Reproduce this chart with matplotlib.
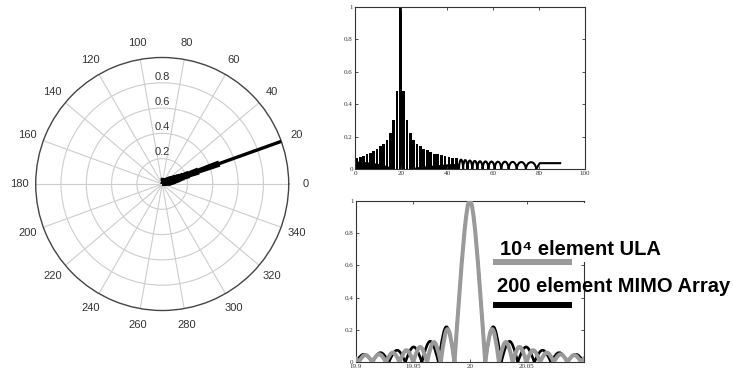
import numpy as np
import matplotlib
matplotlib.use('Agg')
import matplotlib.pyplot as plt
from matplotlib.path import Path
from matplotlib.patches import PathPatch, Rectangle
from matplotlib.lines import Line2D

# ---------------- data ----------------
# beam pattern vs. angle (degrees): top-right panel and polar panel
col_deg = [0.85, 2.3, 3.75, 5.2, 6.65, 8.1, 9.55, 11.0, 12.45, 13.9, 15.35, 16.8, 18.25,
           19.7,
           21.15, 22.6, 24.05, 25.5, 26.95, 28.4, 29.9, 31.4, 32.9, 34.45, 36.0, 37.6,
           39.2, 40.8, 42.5, 44.2]
col_val = [0.07, 0.075, 0.08, 0.09, 0.10, 0.11, 0.125, 0.14, 0.155, 0.18, 0.225, 0.305, 0.48,
           1.0,
           0.48, 0.305, 0.225, 0.18, 0.155, 0.14, 0.125, 0.115, 0.105, 0.095, 0.09, 0.085,
           0.08, 0.075, 0.07, 0.065]
# level below which the dense oscillation reads as solid black
floor_deg = [0.0, 5.0, 10.0, 14.0, 17.5, 21.9, 26.0, 32.0, 40.0, 45.2]
floor_val = [0.05, 0.045, 0.035, 0.02, 0.0, 0.0, 0.012, 0.022, 0.032, 0.035]
hump_null_deg = [45.2, 47.0, 48.9, 51.0, 53.2, 55.5, 58.0, 60.7, 63.6, 66.8, 70.3, 74.3, 78.8]
hump_val = [0.058, 0.055, 0.052, 0.05, 0.048, 0.047, 0.046, 0.045, 0.045, 0.044, 0.043, 0.042]
tail_deg = [78.8, 80.3, 89.2]
tail_val = [0.0, 0.036, 0.036]

# zoomed beam pattern around 20 deg: bottom-right panel (lobe nulls and lobe peaks)
ula_null = [19.8905, 19.9025, 19.9145, 19.9265, 19.9385, 19.9505, 19.9625, 19.9745, 19.9865,
            20.0135, 20.0255, 20.0375, 20.0495, 20.0615, 20.0735, 20.0855, 20.0975, 20.1095]
ula_peak = [0.04, 0.045, 0.05, 0.06, 0.075, 0.095, 0.125, 0.205, 1.0,
            0.205, 0.125, 0.095, 0.075, 0.06, 0.05, 0.045, 0.04]
mimo_null = [19.8855, 19.9, 19.9145, 19.929, 19.9435, 19.958, 19.9725, 19.9865,
             20.0135, 20.0275, 20.042, 20.0565, 20.071, 20.0855, 20.1, 20.1145]
mimo_peak = [0.04, 0.05, 0.06, 0.075, 0.095, 0.13, 0.22, 1.0,
             0.22, 0.13, 0.095, 0.075, 0.06, 0.05, 0.04]
main_lobe_value = 1.0

polar_angles = list(range(0, 360, 20))
polar_angle_labels = [str(a) for a in polar_angles]
polar_r = [0.2, 0.4, 0.6, 0.8]
polar_r_labels = ['0.2', '0.4', '0.6', '0.8']

top_xticks = [0, 20, 40, 60, 80, 100]
top_xlabels = ['0', '20', '40', '60', '80', '100']
yticks = [0, 0.2, 0.4, 0.6, 0.8, 1]
ylabels = ['0', '0.2', '0.4', '0.6', '0.8', '1']
bot_xticks = [19.9, 19.95, 20.0, 20.05]
bot_xlabels = ['19.9', '19.95', '20', '20.05']

legend_labels = ['10\u2074 element ULA', '200 element MIMO Array']
ULA_COLOR = '#9a9a9a'
MIMO_COLOR = '#000000'

# ---------------- helpers ----------------
def arch_path(nulls, peaks, a_side, a_main):
    verts = [(nulls[0], 0.0)]
    codes = [Path.MOVETO]
    for x0, x1, h in zip(nulls[:-1], nulls[1:], peaks):
        w = x1 - x0
        a = a_main if h >= main_lobe_value else a_side
        verts += [(x0 + a * w, 4.0 * h / 3.0), (x1 - a * w, 4.0 * h / 3.0), (x1, 0.0)]
        codes += [Path.CURVE4] * 3
    return Path(verts, codes)

W, H = 733, 377
fig = plt.figure(figsize=(W / 100, H / 100), dpi=100)
fig.patch.set_facecolor('white')

def px_rect(left, right, top, bottom):
    return [left / W, (H - bottom) / H, (right - left) / W, (bottom - top) / H]

serif = ['Liberation Serif', 'DejaVu Serif']
sans = ['Liberation Sans', 'DejaVu Sans']

# ---------------- polar panel ----------------
axp = fig.add_axes(px_rect(35.7, 288.7, 57.5, 310.5), projection='polar')
axp.set_ylim(0, 1)
axp.vlines(np.radians(col_deg), 0, col_val, color='k', lw=2.4, zorder=3)
hump_mid = [(a + b) / 2 for a, b in zip(hump_null_deg[:-1], hump_null_deg[1:])]
axp.vlines(np.radians(hump_mid), 0, hump_val, color='k', lw=2.4, zorder=3)
axp.plot(np.radians(tail_deg[1:]), tail_val[1:], color='k', lw=2.4, zorder=3)
axp.set_thetagrids(polar_angles, polar_angle_labels, fontsize=8, color='#333333', family=sans)
axp.set_rgrids(polar_r, labels=[''] * len(polar_r))
axp.grid(True, color='#cdcdcd', lw=0.8)
axp.spines['polar'].set_color('#444444')
axp.spines['polar'].set_linewidth(1.0)
axp.tick_params(axis='x', length=0, pad=5)
for r, lab in zip(polar_r, polar_r_labels):
    axp.text(np.pi / 2, r + 0.01, lab, ha='center', va='bottom', fontsize=8,
             color='#333333', family=sans, zorder=4)

# ---------------- common style for cartesian panels ----------------
def style_cart(ax):
    for s in ax.spines.values():
        s.set_color('#333333')
        s.set_linewidth(0.8)
    ax.tick_params(direction='in', length=2.5, width=0.6, top=True, right=True,
                   labelsize=5, pad=1.5, colors='#333333')
    for lab in ax.get_xticklabels() + ax.get_yticklabels():
        lab.set_family(serif)

# ---------------- top-right panel ----------------
axt = fig.add_axes(px_rect(355, 585, 7, 169))
axt.bar(col_deg, col_val, width=1.15, color='k', linewidth=0)
axt.fill_between(floor_deg, 0, floor_val, color='k', linewidth=0)
axt.add_patch(PathPatch(arch_path(hump_null_deg, hump_val, 0.12, 0.12), fill=False,
                        edgecolor='k', lw=1.5, joinstyle='round'))
axt.plot(tail_deg, tail_val, color='k', lw=1.5)
axt.set_xlim(0, 100)
axt.set_ylim(0, 1)
axt.set_xticks(top_xticks)
axt.set_xticklabels(top_xlabels)
axt.set_yticks(yticks)
axt.set_yticklabels(ylabels)
style_cart(axt)

# ---------------- bottom-right panel ----------------
axb = fig.add_axes(px_rect(355.7, 584, 200.7, 362.3))
axb.add_patch(PathPatch(arch_path(mimo_null, mimo_peak, 0.4244, 0.5), fill=False,
                        edgecolor=MIMO_COLOR, lw=1.9, joinstyle='round', zorder=2))
axb.add_patch(PathPatch(arch_path(ula_null, ula_peak, 0.4244, 0.5), fill=False,
                        edgecolor=ULA_COLOR, lw=2.9, joinstyle='round', zorder=3))
axb.set_xlim(19.9, 20.1)
axb.set_ylim(0, 1)
axb.set_xticks(bot_xticks)
axb.set_xticklabels(bot_xlabels)
axb.set_yticks(yticks)
axb.set_yticklabels(ylabels)
style_cart(axb)

# white area of the pasted legend covering upper part of the right spine
fig.add_artist(Rectangle((577 / W, (H - 262) / H), 15 / W, (262 - 202.5) / H,
                         transform=fig.transFigure, facecolor='white', edgecolor='none',
                         zorder=5))

# ---------------- legend (text + line samples) ----------------
fig.text(500 / W, (H - 255) / H, legend_labels[0], fontsize=14.5, fontweight='bold',
         family=sans, ha='left', va='baseline', zorder=6)
fig.text(497 / W, (H - 292) / H, legend_labels[1], fontsize=14.5, fontweight='bold',
         family=sans, ha='left', va='baseline', zorder=6)
fig.add_artist(Line2D([493 / W, 572 / W], [(H - 262) / H] * 2, transform=fig.transFigure,
                      color=ULA_COLOR, lw=4.3, solid_capstyle='butt', zorder=6))
fig.add_artist(Line2D([493 / W, 572 / W], [(H - 304.5) / H] * 2, transform=fig.transFigure,
                      color=MIMO_COLOR, lw=4.3, solid_capstyle='butt', zorder=6))

fig.savefig('out.png', dpi=100, facecolor='white')
